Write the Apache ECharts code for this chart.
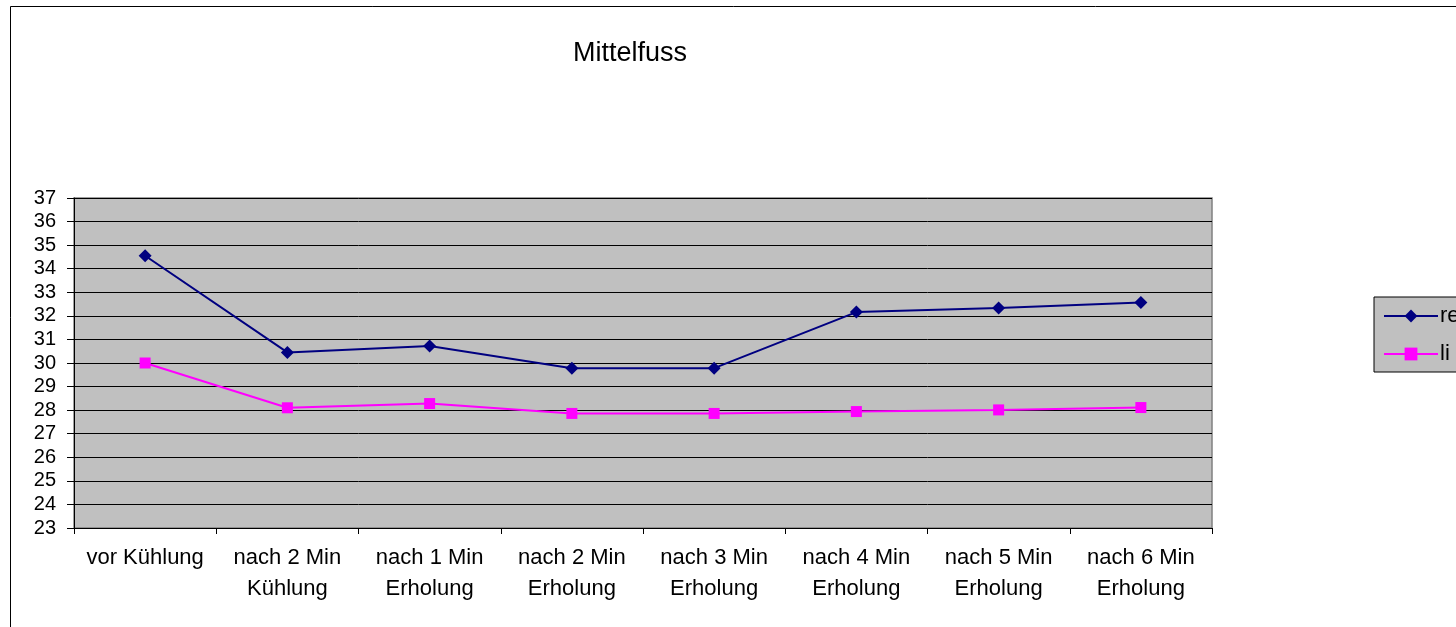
<!DOCTYPE html>
<html>
<head>
<meta charset="utf-8">
<script src="https://cdn.jsdelivr.net/npm/echarts@6/dist/echarts.min.js"></script>
<style>
html,body{margin:0;padding:0;background:#fff;}
#chart{width:1456px;height:627px;}
</style>
</head>
<body>
<div id="chart"></div>
<script>
const titleText = 'Mittelfuss';
const categories = ['vor Kühlung', 'nach 2 Min\nKühlung', 'nach 1 Min\nErholung', 'nach 2 Min\nErholung', 'nach 3 Min\nErholung', 'nach 4 Min\nErholung', 'nach 5 Min\nErholung', 'nach 6 Min\nErholung'];
const seriesNames = ['re', 'li'];
const reValues = [34.55, 30.45, 30.72, 29.78, 29.78, 32.16, 32.33, 32.57];
const liValues = [30.0, 28.1, 28.28, 27.86, 27.86, 27.94, 28.01, 28.11];
const yMin = 23, yMax = 37, yStep = 1;

const chart = echarts.init(document.getElementById('chart'), null, {renderer: 'canvas'});
const font = 'Liberation Sans, Arial, sans-serif';
chart.setOption({
  animation: false,
  backgroundColor: '#ffffff',
  graphic: [
    {type: 'rect', z: -10, silent: true, shape: {x: 10.5, y: 6.5, width: 1600, height: 800}, style: {fill: '#ffffff', stroke: '#000000', lineWidth: 1}},
    {type: 'text', silent: true, style: {text: titleText, x: 630, y: 54, textAlign: 'center', textVerticalAlign: 'middle', fontSize: 27, fontFamily: font, fill: '#000000'}}
  ],
  grid: {left: 74, right: 244, top: 198, bottom: 99, show: true, backgroundColor: '#C0C0C0', borderColor: '#808080', borderWidth: 1.5},
  legend: {
    orient: 'vertical', left: 1374, top: 297,
    backgroundColor: '#C0C0C0', borderColor: '#000000', borderWidth: 1,
    padding: [8, 20, 7, 9], itemGap: 16, itemWidth: 54, itemHeight: 16,
    lineStyle: {width: 2},
    textStyle: {fontSize: 22, fontFamily: font, color: '#000', lineHeight: 22, padding: [0, 0, 0, -3]},
    data: seriesNames
  },
  xAxis: {
    type: 'category', data: categories, boundaryGap: true,
    axisLine: {show: true, lineStyle: {color: '#000', width: 1}},
    axisTick: {show: true, length: 6, lineStyle: {color: '#000'}},
    axisLabel: {fontSize: 22, fontFamily: font, color: '#000', lineHeight: 31, margin: 14, interval: 0}
  },
  yAxis: {
    type: 'value', min: yMin, max: yMax, interval: yStep,
    axisLine: {show: true, lineStyle: {color: '#000', width: 1}},
    axisTick: {show: true, length: 7, lineStyle: {color: '#000'}},
    axisLabel: {fontSize: 20, fontFamily: font, color: '#000', margin: 18},
    splitLine: {show: true, lineStyle: {color: '#000', width: 1}}
  },
  series: [
    {name: seriesNames[0], type: 'line', data: reValues, symbol: 'diamond', symbolSize: 13,
     itemStyle: {color: '#000080'}, lineStyle: {color: '#000080', width: 2}},
    {name: seriesNames[1], type: 'line', data: liValues, symbol: 'rect', symbolSize: 11,
     itemStyle: {color: '#FF00FF'}, lineStyle: {color: '#FF00FF', width: 2}}
  ]
});
</script>
</body>
</html>
